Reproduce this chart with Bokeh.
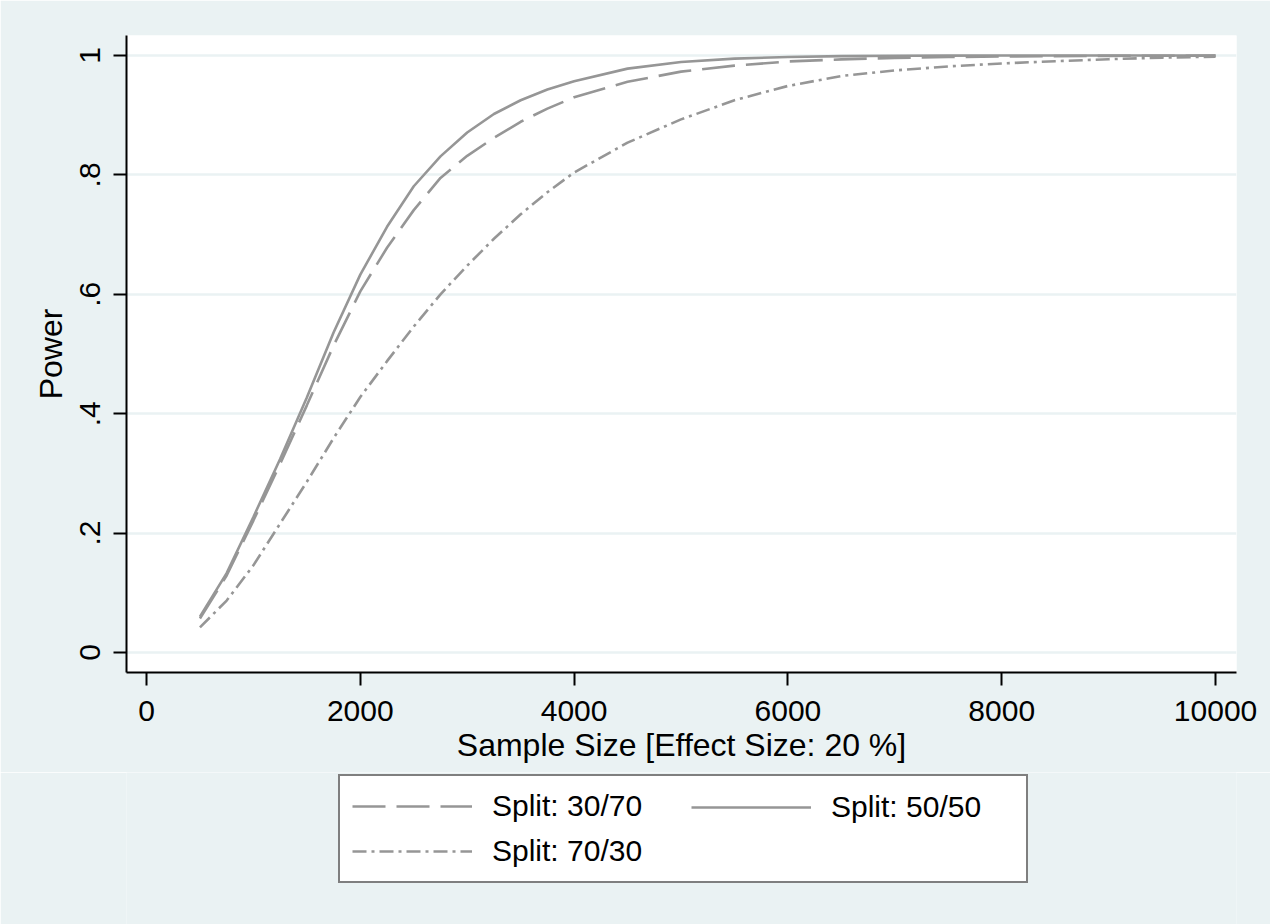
from bokeh.plotting import figure
from bokeh.layouts import column
from bokeh.models import Legend, LegendItem, FixedTicker, Range1d
from bokeh.embed import file_html
from bokeh.resources import INLINE

# ---- data ----
sample_size = [500, 750, 1000, 1250, 1500, 1750, 2000, 2250, 2500, 2750, 3000,
               3250, 3500, 3750, 4000, 4500, 5000, 5500, 6000, 6500, 7000,
               7500, 8000, 8500, 9000, 9500, 10000]
power_30_70 = [0.057, 0.129, 0.221, 0.316, 0.414, 0.514, 0.605, 0.678, 0.741, 0.795, 0.832,
               0.862, 0.889, 0.911, 0.930, 0.956, 0.973, 0.983, 0.990, 0.9935, 0.996,
               0.9974, 0.9984, 0.999, 0.9994, 0.9996, 0.9998]
power_50_50 = [0.060, 0.133, 0.227, 0.324, 0.427, 0.536, 0.633, 0.713, 0.781, 0.831, 0.871,
               0.902, 0.925, 0.943, 0.957, 0.978, 0.989, 0.9947, 0.9975, 0.9989, 0.9995,
               0.9998, 0.9999, 1.0, 1.0, 1.0, 1.0]
power_70_30 = [0.042, 0.087, 0.146, 0.216, 0.286, 0.359, 0.428, 0.488, 0.546, 0.600, 0.648,
               0.693, 0.734, 0.771, 0.804, 0.854, 0.893, 0.925, 0.949, 0.9657, 0.975,
               0.9817, 0.9867, 0.9904, 0.9938, 0.9965, 0.998]

series_labels = ["Split: 30/70", "Split: 50/50", "Split: 70/30"]
x_ticks = [0, 2000, 4000, 6000, 8000, 10000]
y_ticks = [0, 0.2, 0.4, 0.6, 0.8, 1.0]
y_tick_labels = ["0", ".2", ".4", ".6", ".8", "1"]
x_title = "Sample Size [Effect Size: 20 %]"
y_title = "Power"

BG = "#EAF2F3"
LINE = "#969696"
FONT = "Liberation Sans"
LW = 2.6
DASH = "33 11"
DASHDOT = "14 5 3 5"

# ---------------- main plot ----------------
p = figure(width=1270, height=772, output_backend="svg", toolbar_location=None,
           x_range=Range1d(-187, 10196), y_range=Range1d(-0.0335, 1.0335),
           min_border_left=126, min_border_right=34, min_border_top=35, min_border_bottom=100)
p.background_fill_color = "white"
p.border_fill_color = BG
p.outline_line_color = None

p.line(sample_size, power_30_70, line_color=LINE, line_width=LW, line_dash=DASH)
p.line(sample_size, power_50_50, line_color=LINE, line_width=LW)
p.line(sample_size, power_70_30, line_color=LINE, line_width=LW, line_dash=DASHDOT)

for ax in (p.xaxis[0], p.yaxis[0]):
    ax.axis_line_color = "black"
    ax.axis_line_width = 2
    ax.major_tick_line_color = "black"
    ax.major_tick_line_width = 2
    ax.major_tick_out = 13
    ax.major_tick_in = 0
    ax.minor_tick_line_color = None
    ax.major_label_text_font = FONT
    ax.major_label_text_font_size = "30px"
    ax.major_label_text_color = "black"
    ax.axis_label_text_font = FONT
    ax.axis_label_text_font_size = "32px"
    ax.axis_label_text_font_style = "normal"
    ax.axis_label_text_color = "black"

p.xaxis.ticker = FixedTicker(ticks=x_ticks)
p.xaxis.axis_label = x_title
p.xaxis.major_label_standoff = 15
p.xaxis.axis_label_standoff = 3

p.yaxis.ticker = FixedTicker(ticks=y_ticks)
p.yaxis.major_label_overrides = {t: l for t, l in zip(y_ticks, y_tick_labels)}
p.yaxis.major_label_orientation = "vertical"
p.yaxis.axis_label = y_title
p.yaxis.major_label_standoff = 13
p.yaxis.axis_label_standoff = 9

p.xgrid.grid_line_color = None
p.ygrid.grid_line_color = BG
p.ygrid.grid_line_width = 2.5

# ---------------- legend strip (its frame aligns with the plot frame) ----------------
lg = figure(width=1270, height=152, output_backend="svg", toolbar_location=None,
            x_range=Range1d(0, 1), y_range=Range1d(0, 1),
            min_border_left=126, min_border_right=34, min_border_top=0, min_border_bottom=0,
            x_axis_type=None, y_axis_type=None)
lg.background_fill_color = BG
lg.border_fill_color = BG
lg.outline_line_color = None
lg.xgrid.grid_line_color = None
lg.ygrid.grid_line_color = None

# same series, lying outside this strip's ranges: used only as legend keys
k1 = lg.line(sample_size, power_30_70, line_color=LINE, line_width=LW, line_dash=DASH)
k2 = lg.line(sample_size, power_50_50, line_color=LINE, line_width=LW)
k3 = lg.line(sample_size, power_70_30, line_color=LINE, line_width=LW, line_dash=DASHDOT)


def style(leg):
    leg.glyph_width = 120
    leg.glyph_height = 36
    leg.label_height = 36
    leg.label_standoff = 20
    leg.spacing = 9
    leg.padding = 12
    leg.margin = 0
    leg.label_text_font = FONT
    leg.label_text_font_size = "30px"
    leg.label_text_color = "black"


legA = Legend(items=[LegendItem(label=series_labels[0], renderers=[k1]),
                     LegendItem(label=series_labels[2], renderers=[k3])],
              location=(212, 41), orientation="vertical")
style(legA)
legA.label_width = 522
legA.border_line_color = "black"
legA.border_line_width = 2
legA.background_fill_color = "white"
legA.background_fill_alpha = 1
lg.add_layout(legA)

legB = Legend(items=[LegendItem(label=series_labels[1], renderers=[k2])],
              location=(565, 99), orientation="vertical")
style(legB)
legB.label_width = 170
legB.border_line_color = None
legB.background_fill_alpha = 0
lg.add_layout(legB)

layout = column(p, lg, spacing=0)

open("out.html", "w").write(file_html(layout, INLINE))
